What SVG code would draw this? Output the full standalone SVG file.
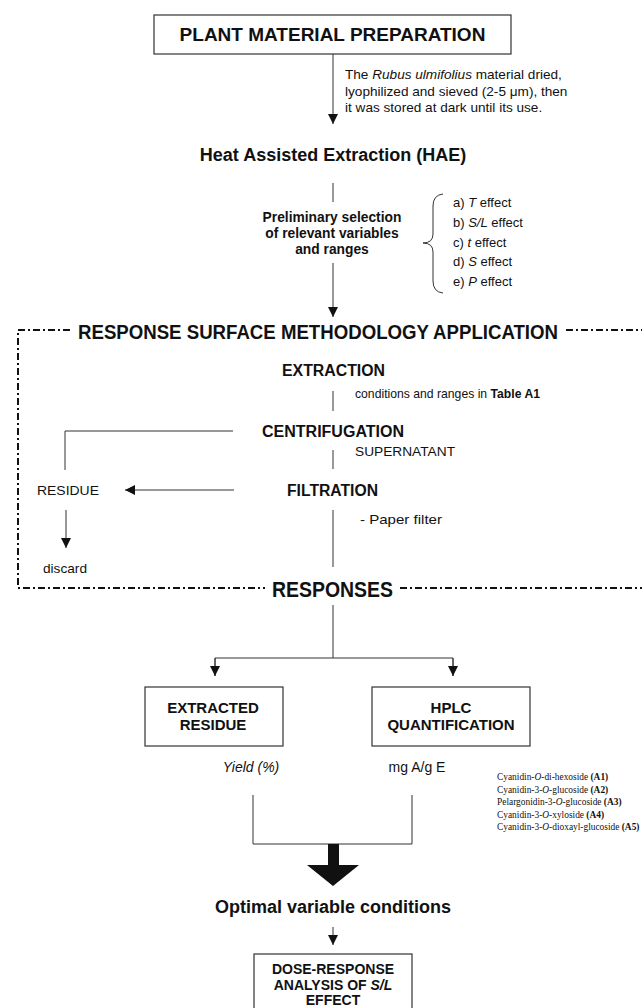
<svg xmlns="http://www.w3.org/2000/svg" width="642" height="1008" viewBox="0 0 642 1008">
  <defs>
    <marker id="arrow" viewBox="0 0 10 10" refX="10" refY="5" markerWidth="10" markerHeight="10" markerUnits="userSpaceOnUse" orient="auto">
      <path d="M0,0 L10,5 L0,10 Z" fill="#111"/>
    </marker>
    <style>
      text { font-family: "Liberation Sans", Arial, sans-serif; fill: #111; }
      .b { font-weight: bold; }
      .i { font-style: italic; }
      .mid { text-anchor: middle; }
      .line { stroke: #333; stroke-width: 1; fill: none; }
      .box { stroke: #333; stroke-width: 1.2; fill: #fff; }
      .frame { stroke: #111; stroke-width: 2; fill: none; stroke-dasharray: 7 3 2 3; }
      .serif { font-family: "Liberation Serif", "Times New Roman", serif; font-size: 9.4px; }
    </style>
  </defs>
  <rect width="642" height="1008" fill="#fff"/>

  <!-- dash-dot frame of the response surface section -->
  <g id="rsm-frame">
    <path class="frame" d="M70,330 H18 V588 H265"/>
    <path class="frame" d="M566,330 H642"/>
    <path class="frame" d="M400,588 H642"/>
  </g>

  <g id="connectors">
    <line class="line" x1="333" y1="54" x2="333" y2="124" marker-end="url(#arrow)"/>
    <line class="line" x1="333" y1="183" x2="333" y2="202"/>
    <line class="line" x1="333" y1="263" x2="333" y2="317" marker-end="url(#arrow)"/>
    <line class="line" x1="333" y1="391" x2="333" y2="411"/>
    <line class="line" x1="333" y1="450" x2="333" y2="469"/>
    <line class="line" x1="333" y1="510" x2="333" y2="567"/>
    <path class="line" d="M233,431 H65 V470"/>
    <line class="line" x1="234" y1="490" x2="125" y2="490" marker-end="url(#arrow)"/>
    <line class="line" x1="66" y1="510" x2="66" y2="548" marker-end="url(#arrow)"/>
    <line class="line" x1="333" y1="605" x2="333" y2="658"/>
    <path class="line" d="M215,676 V658 H453 V676"/>
    <line class="line" x1="215" y1="658" x2="215" y2="676" marker-end="url(#arrow)"/>
    <line class="line" x1="453" y1="658" x2="453" y2="676" marker-end="url(#arrow)"/>
    <path class="line" d="M253,795 V844 H412 V795"/>
    <polygon points="328,844 339,844 339,865 359,865 333,886 307,865 328,865" fill="#111"/>
    <line class="line" x1="333" y1="927" x2="333" y2="945" marker-end="url(#arrow)"/>
    <!-- brace grouping the preliminary variables -->
    <path class="line" d="M443,194 Q433,195 433,206 V234 Q433,243 423,243 Q433,243 433,252 V281 Q433,292 443,293"/>
  </g>

  <g id="plant-material">
    <rect class="box" x="154" y="15" width="357" height="39"/>
    <text class="b mid" x="332.5" y="41" font-size="19">PLANT MATERIAL PREPARATION</text>
  </g>

  <g id="plant-note" font-size="13.6">
    <text x="345" y="79">The <tspan class="i">Rubus ulmifolius</tspan> material dried,</text>
    <text x="345" y="96">lyophilized and sieved (2-5 μm), then</text>
    <text x="345" y="112">it was stored at dark until its use.</text>
  </g>

  <g id="hae">
    <text class="b mid" x="333" y="161" font-size="18">Heat Assisted Extraction (HAE)</text>
  </g>

  <g id="preliminary">
    <text class="b mid" x="332" y="222" font-size="13.8">Preliminary selection</text>
    <text class="b mid" x="332" y="238" font-size="13.8">of relevant variables</text>
    <text class="b mid" x="332" y="254" font-size="13.8">and ranges</text>
  </g>

  <g id="variables" font-size="13">
    <text x="453" y="207">a) <tspan class="i">T</tspan> effect</text>
    <text x="453" y="227">b) <tspan class="i">S/L</tspan> effect</text>
    <text x="453" y="247">c) <tspan class="i">t</tspan> effect</text>
    <text x="453" y="266">d) <tspan class="i">S</tspan> effect</text>
    <text x="453" y="286">e) <tspan class="i">P</tspan> effect</text>
  </g>

  <g id="rsm-title">
    <text class="b" x="78" y="339" font-size="20.5" textLength="480" lengthAdjust="spacingAndGlyphs">RESPONSE SURFACE METHODOLOGY APPLICATION</text>
  </g>

  <g id="extraction">
    <text class="b" x="282" y="376" font-size="16" textLength="103" lengthAdjust="spacingAndGlyphs">EXTRACTION</text>
    <text x="355" y="398" font-size="12.2">conditions and ranges in <tspan class="b">Table A1</tspan></text>
  </g>

  <g id="centrifugation">
    <text class="b" x="262" y="437" font-size="16" textLength="142" lengthAdjust="spacingAndGlyphs">CENTRIFUGATION</text>
    <text x="355" y="456" font-size="13" textLength="100" lengthAdjust="spacingAndGlyphs">SUPERNATANT</text>
  </g>

  <g id="filtration">
    <text class="b" x="287" y="496" font-size="16" textLength="91" lengthAdjust="spacingAndGlyphs">FILTRATION</text>
    <text x="360" y="524" font-size="13" textLength="82" lengthAdjust="spacingAndGlyphs">- Paper filter</text>
  </g>

  <g id="residue">
    <text x="37" y="495" font-size="13" textLength="62" lengthAdjust="spacingAndGlyphs">RESIDUE</text>
  </g>

  <g id="discard">
    <text x="43" y="573" font-size="13" textLength="44" lengthAdjust="spacingAndGlyphs">discard</text>
  </g>

  <g id="responses">
    <text class="b" x="272" y="597" font-size="22" textLength="121" lengthAdjust="spacingAndGlyphs">RESPONSES</text>
  </g>

  <g id="extracted-residue">
    <rect class="box" x="145" y="687" width="138" height="59"/>
    <text class="b mid" x="213" y="713" font-size="15">EXTRACTED</text>
    <text class="b mid" x="213" y="730" font-size="15">RESIDUE</text>
    <text class="i mid" x="251" y="772" font-size="14">Yield (%)</text>
  </g>

  <g id="hplc">
    <rect class="box" x="372" y="687" width="158" height="59"/>
    <text class="b mid" x="451" y="713" font-size="15">HPLC</text>
    <text class="b mid" x="451" y="730" font-size="15">QUANTIFICATION</text>
    <text class="mid" x="417" y="772" font-size="14">mg A/g E</text>
  </g>

  <g id="compounds" class="serif">
    <text class="serif" x="497" y="780">Cyanidin-<tspan class="i">O</tspan>-di-hexoside <tspan class="b">(A1)</tspan></text>
    <text class="serif" x="497" y="792.5">Cyanidin-3-<tspan class="i">O</tspan>-glucoside <tspan class="b">(A2)</tspan></text>
    <text class="serif" x="497" y="805">Pelargonidin-3-<tspan class="i">O</tspan>-glucoside <tspan class="b">(A3)</tspan></text>
    <text class="serif" x="497" y="817.5">Cyanidin-3-<tspan class="i">O</tspan>-xyloside <tspan class="b">(A4)</tspan></text>
    <text class="serif" x="497" y="830">Cyanidin-3-<tspan class="i">O</tspan>-dioxayl-glucoside <tspan class="b">(A5)</tspan></text>
  </g>

  <g id="optimal">
    <text class="b mid" x="333" y="913" font-size="18">Optimal variable conditions</text>
  </g>

  <g id="dose-response">
    <rect class="box" x="254" y="954" width="158" height="70"/>
    <text class="b mid" x="333" y="974" font-size="14">DOSE-RESPONSE</text>
    <text class="b mid" x="333" y="990" font-size="14">ANALYSIS OF <tspan class="i">S/L</tspan></text>
    <text class="b mid" x="333" y="1005" font-size="14">EFFECT</text>
  </g>
</svg>
